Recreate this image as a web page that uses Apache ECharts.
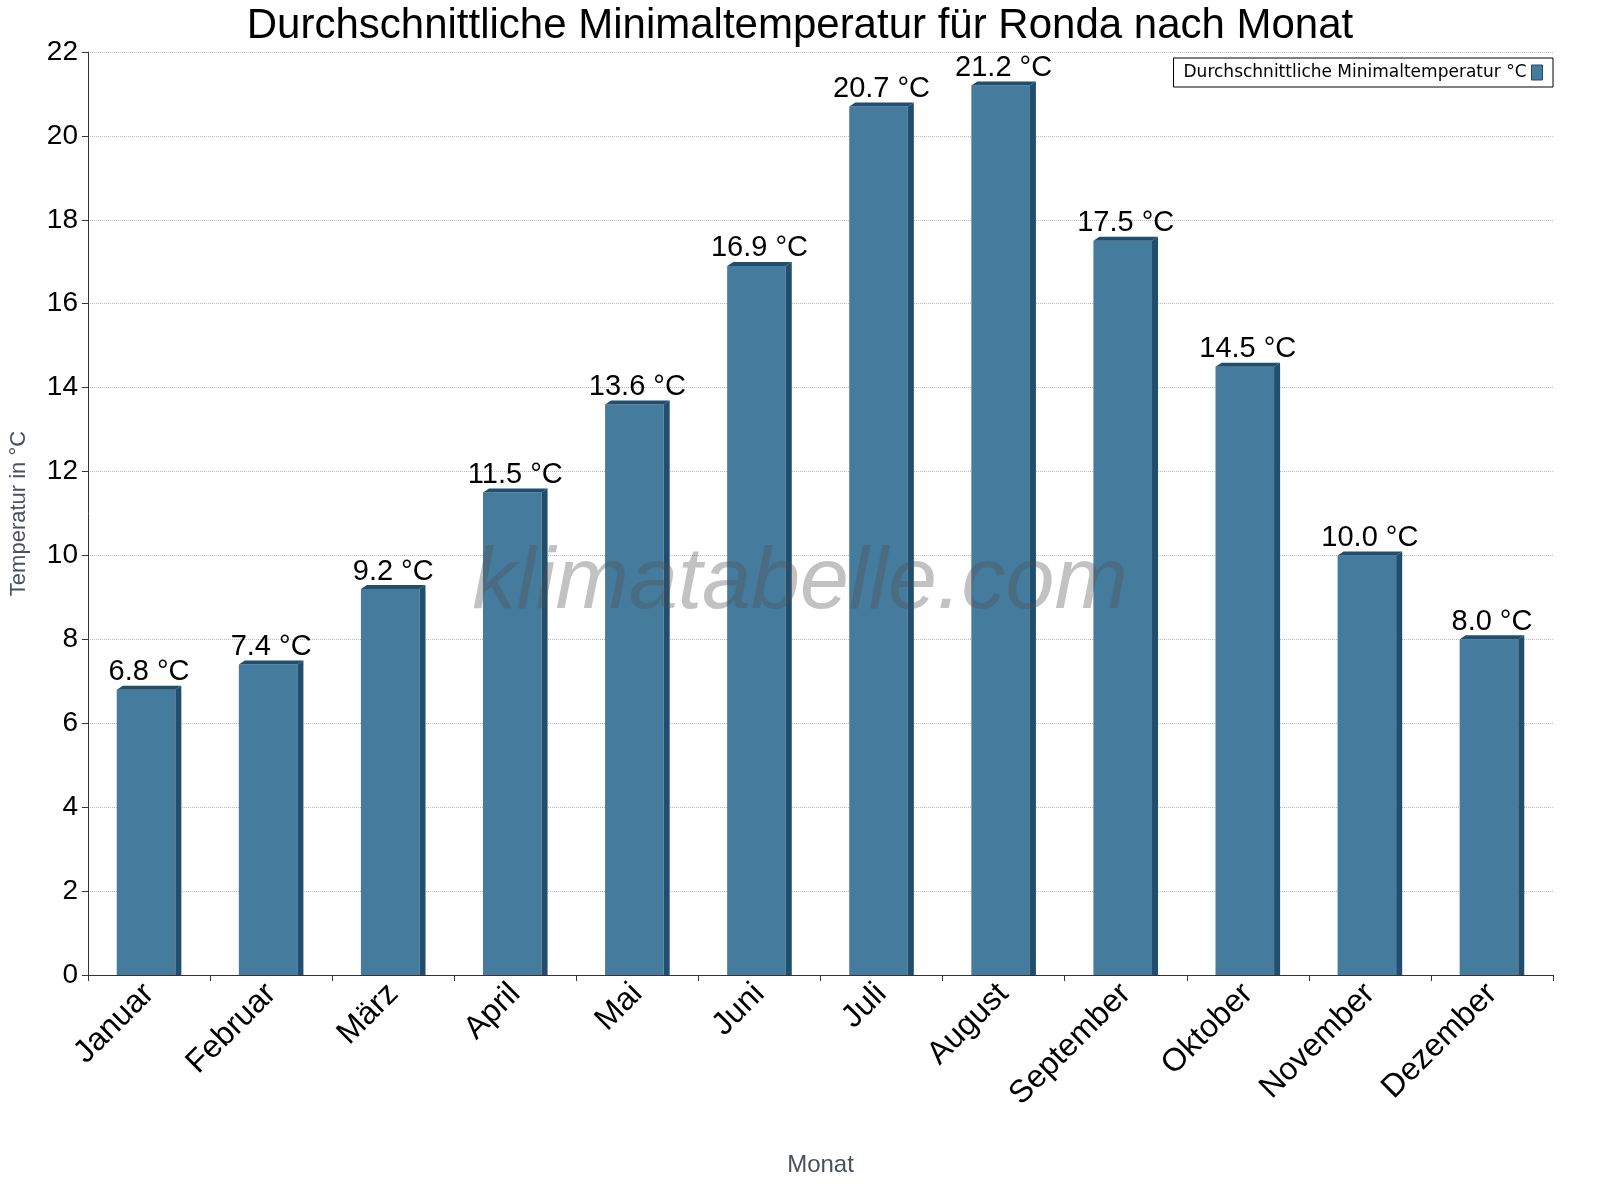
<!DOCTYPE html>
<html>
<head>
<meta charset="utf-8">
<title>Ronda Minimaltemperatur</title>
<script src="https://cdn.jsdelivr.net/npm/echarts@6/dist/echarts.min.js"></script>
<style>html,body{margin:0;background:#fff}</style>
</head>
<body>
<div id="main" style="width:1600px;height:1200px"></div>
<script>
var months = ['Januar', 'Februar', 'März', 'April', 'Mai', 'Juni', 'Juli', 'August', 'September', 'Oktober', 'November', 'Dezember'];
var minTemp = [6.8, 7.4, 9.2, 11.5, 13.6, 16.9, 20.7, 21.2, 17.5, 14.5, 10.0, 8.0];
var seriesName = 'Durchschnittliche Minimaltemperatur °C';

var chart = echarts.init(document.getElementById('main'));

// bar with a small dark top and right face
function renderBar(params, api) {
    var i = api.value(0), v = api.value(1);
    var top = api.coord([i, v]);
    var base = api.coord([i, 0]);
    var w = api.size([1, 0])[0] * 0.48;
    var x0 = top[0] - w / 2 - 3, x1 = x0 + w;
    var d = 6, h = 4;
    return {
        type: 'group',
        children: [
            { type: 'rect', shape: { x: x0, y: top[1], width: w, height: base[1] - top[1] }, style: { fill: '#457b9d' } },
            { type: 'polygon', shape: { points: [[x0, top[1]], [x0 + d, top[1] - h], [x1 + d, top[1] - h], [x1, top[1]]] }, style: { fill: '#1f4e6e' } },
            { type: 'polygon', shape: { points: [[x1, top[1]], [x1 + d, top[1] - h], [x1 + d, base[1]], [x1, base[1]]] }, style: { fill: '#1f4e6e' } },
            { type: 'text', style: { text: v.toFixed(1) + ' °C', x: top[0], y: top[1] - 3, align: 'center', verticalAlign: 'bottom', fill: '#000', font: '29px "Liberation Sans", Arial' } }
        ]
    };
}

var option = {
    title: {
        text: 'Durchschnittliche Minimaltemperatur für Ronda nach Monat',
        left: 'center', top: 0,
        textStyle: { fontFamily: 'Liberation Sans', fontSize: 42, fontWeight: 'normal', color: '#000' }
    },
    legend: {
        data: [{ name: seriesName, icon: 'rect', itemStyle: { color: '#457b9d', borderColor: '#1f4e6e', borderWidth: 1 } }],
        right: 47, top: 58, align: 'right',
        itemWidth: 11, itemHeight: 15,
        borderColor: '#000', borderWidth: 1, padding: [6, 10], borderRadius: 0,
        textStyle: { fontFamily: 'DejaVu Sans', fontSize: 17, color: '#000' }
    },
    graphic: [{
        type: 'text', left: 'center', top: 540, z: 10,
        style: { text: 'klimatabelle.com', font: 'italic 88px "Liberation Sans", Arial', fill: 'rgba(80,80,80,0.35)' }
    }],
    grid: { left: 83, right: 47, top: 52, bottom: 225 },
    xAxis: {
        type: 'category', data: months,
        name: 'Monat', nameLocation: 'middle', nameGap: 178,
        nameTextStyle: { fontFamily: 'Liberation Sans', fontSize: 24, color: '#4a5060' },
        axisLine: { lineStyle: { color: '#333' } },
        axisTick: { show: true, length: 6, lineStyle: { color: '#333' } },
        axisLabel: { rotate: 45, fontFamily: 'Liberation Sans', fontSize: 32, color: '#000', margin: 14 },
        splitLine: { show: false }
    },
    yAxis: {
        type: 'value', min: 0, max: 22, interval: 2,
        name: 'Temperatur in °C', nameLocation: 'middle', nameGap: 58,
        nameTextStyle: { fontFamily: 'Liberation Sans', fontSize: 22, color: '#4a5060' },
        axisLine: { show: true, lineStyle: { color: '#333' } },
        axisTick: { show: true, length: 6, lineStyle: { color: '#333' } },
        axisLabel: { fontFamily: 'Liberation Sans', fontSize: 28, color: '#000', margin: 10 },
        splitLine: { lineStyle: { color: '#bbb', type: 'dotted' } }
    },
    series: [{
        name: seriesName,
        type: 'custom',
        renderItem: renderBar,
        itemStyle: { color: '#457b9d' },
        data: minTemp.map(function (v, i) { return [i, v]; })
    }]
};
chart.setOption(option);
</script>
</body>
</html>
